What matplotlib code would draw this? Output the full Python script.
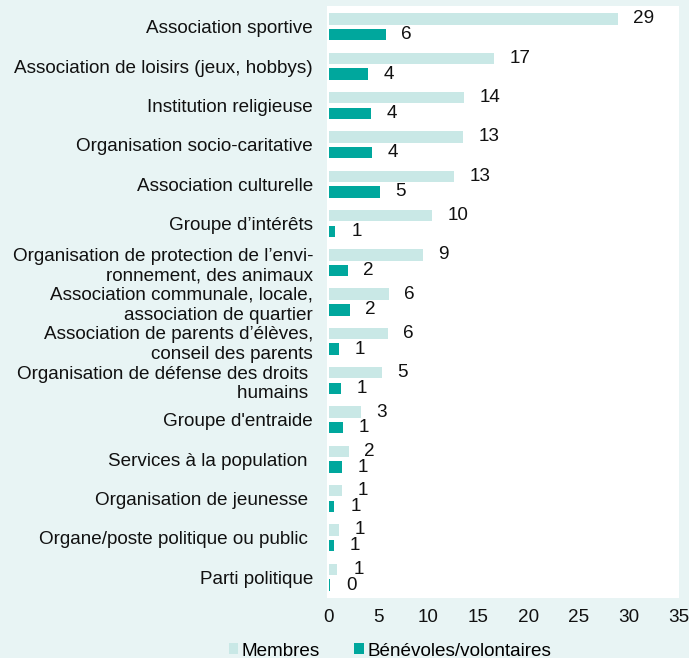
import numpy as np
from matplotlib import pyplot as plt

plt.rcParams['font.family'] = ['Liberation Sans', 'DejaVu Sans']

categories = ['Association sportive',
              'Association de loisirs (jeux, hobbys)',
              'Institution religieuse',
              'Organisation socio-caritative',
              'Association culturelle',
              'Groupe d’intérêts',
              'Organisation de protection de l’envi-\nronnement, des animaux',
              'Association communale, locale,\nassociation de quartier',
              'Association de parents d’élèves,\nconseil des parents',
              'Organisation de défense des droits \nhumains ',
              "Groupe d'entraide",
              'Services à la population ',
              'Organisation de jeunesse ',
              'Organe/poste politique ou public ',
              'Parti politique']
membres = [28.9, 16.5, 13.5, 13.4, 12.5, 10.3, 9.4, 6.0, 5.9, 5.3, 3.2, 2.0, 1.3, 1.0, 0.87]
benevoles = [5.7, 3.9, 4.2, 4.3, 5.1, 0.67, 1.9, 2.1, 1.0, 1.2, 1.4, 1.3, 0.57, 0.5, 0.13]
membres_labels = [29, 17, 14, 13, 13, 10, 9, 6, 6, 5, 3, 2, 1, 1, 1]
benevoles_labels = [6, 4, 4, 4, 5, 1, 2, 2, 1, 1, 1, 1, 1, 1, 0]
series_names = ['Membres', 'Bénévoles/volontaires']

bg = '#e8f4f4'
col_membres = '#c9e8e6'
col_benevoles = '#00a79d'
fs = 13.6

fig = plt.figure(figsize=(6.89, 6.58), dpi=100, facecolor=bg)
ax = fig.add_axes([327/689, 1 - 598/658, 352/689, 592/658])
ax.set_facecolor('white')

y = np.arange(len(categories))
h = 0.29
b1 = ax.barh(y - 0.2, membres, height=h, color=col_membres, label=series_names[0])
b2 = ax.barh(y + 0.2, benevoles, height=h, color=col_benevoles, label=series_names[1])

for bars, labs in [(b1, membres_labels), (b2, benevoles_labels)]:
    for bar, lab in zip(bars, labs):
        ax.annotate(str(lab), (bar.get_width(), bar.get_y() + bar.get_height() / 2),
                    xytext=(11.5, 0), textcoords='offset points', ha='left', va='center',
                    fontsize=fs, color='#111111')

ax.set_yticks(y)
ax.set_yticklabels(categories, ha='right', multialignment='right')
ax.set_ylim(len(categories) - 0.47, -0.53)
ax.set_xlim(-0.15, 35.05)
ax.set_xticks(range(0, 36, 5))
ax.tick_params(axis='both', length=0, labelsize=fs, colors='#111111')
ax.tick_params(axis='y', pad=10)
ax.tick_params(axis='x', pad=8)
for s in ax.spines.values():
    s.set_visible(False)

leg = fig.legend(handles=[b1, b2], labels=series_names, loc='center', bbox_to_anchor=(0.566, 1 - 651/658),
                 ncol=2, frameon=False, fontsize=fs, handlelength=0.5, handleheight=0.5,
                 handletextpad=0.2, columnspacing=1.8, borderaxespad=0)

plt.savefig('out.png', dpi=100, facecolor=bg)
